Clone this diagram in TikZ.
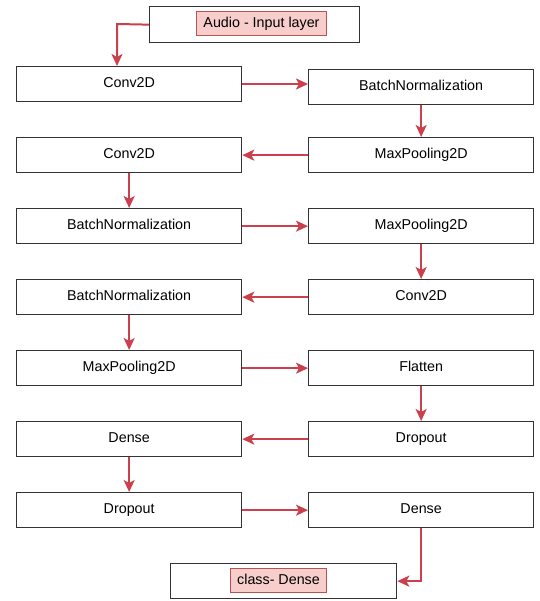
\documentclass[tikz,border=0pt]{standalone}
\usepackage{fontspec}
\setmainfont{Liberation Sans}
\usetikzlibrary{arrows.meta}
\definecolor{arr}{HTML}{CC3F4C}
\definecolor{lblfill}{HTML}{F8CECC}
\definecolor{lbldraw}{HTML}{B85450}
\definecolor{boxdraw}{HTML}{333333}
\begin{document}
\begin{tikzpicture}[x=1pt,y=-1pt,
  layer/.style={draw=boxdraw,line width=1.3pt,fill=white,minimum width=225pt,minimum height=35pt,inner sep=0pt,text height=10.5pt,text depth=3pt,font=\fontsize{14.3pt}{16pt}\selectfont,anchor=north west},
  tag/.style={draw=lbldraw,line width=1pt,fill=lblfill,inner xsep=7pt,minimum height=24pt,text height=10.5pt,text depth=3pt,font=\fontsize{14.3pt}{16pt}\selectfont},
  conn/.style={draw=arr,line width=2pt,-{Stealth[length=12pt,width=11pt,inset=3pt]}}]
\useasboundingbox (0,0) rectangle (539,601);
\fill[white] (0,0) rectangle (539,601);
% top
\node[layer,minimum width=210pt,minimum height=36pt] (in) at (149,6) {};
\node[tag] (inl) at (261.5,24) {Audio - Input layer};
% rows
\node[layer] (l1) at (16,66) {Conv2D};
\node[layer] (r1) at (308,69) {BatchNormalization};
\node[layer] (r2) at (308,137) {MaxPooling2D};
\node[layer] (l2) at (16,137) {Conv2D};
\node[layer] (l3) at (16,208) {BatchNormalization};
\node[layer] (r3) at (308,208) {MaxPooling2D};
\node[layer] (r4) at (308,279) {Conv2D};
\node[layer] (l4) at (16,279) {BatchNormalization};
\node[layer] (l5) at (16,350) {MaxPooling2D};
\node[layer] (r5) at (308,350) {Flatten};
\node[layer] (r6) at (308,421) {Dropout};
\node[layer] (l6) at (16,421) {Dense};
\node[layer] (l7) at (16,492) {Dropout};
\node[layer] (r7) at (308,492) {Dense};
\node[layer,minimum width=226pt] (out) at (170,563) {};
\node[tag] (outl) at (278.5,580.5) {class- Dense};
% connectors
\coordinate (c0) at (117,24);
\draw[conn] (in.west) -- (c0) -- (c0 |- l1.north);
\draw[conn] (l1.east |- 0,84) -- (r1.west |- 0,84);
\draw[conn] (r1.south) -- (r2.north);
\draw[conn] (r2.west) -- (l2.east);
\draw[conn] (l2.south) -- (l3.north);
\draw[conn] (l3.east) -- (r3.west);
\draw[conn] (r3.south) -- (r4.north);
\draw[conn] (r4.west) -- (l4.east);
\draw[conn] (l4.south) -- (l5.north);
\draw[conn] (l5.east) -- (r5.west);
\draw[conn] (r5.south) -- (r6.north);
\draw[conn] (r6.west) -- (l6.east);
\draw[conn] (l6.south) -- (l7.north);
\draw[conn] (l7.east) -- (r7.west);
\draw[conn] (r7.south) |- (out.east);
\end{tikzpicture}
\end{document}
